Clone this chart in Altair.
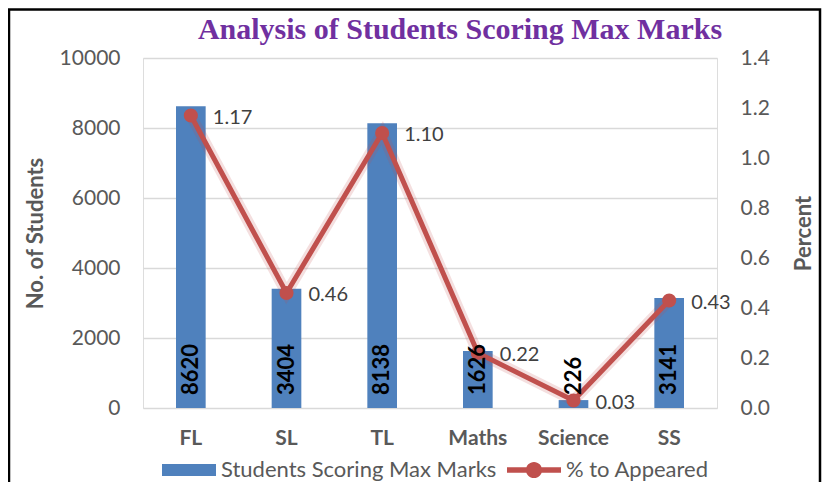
import altair as alt
import pandas as pd

categories = ["FL", "SL", "TL", "Maths", "Science", "SS"]
students = [8620, 3404, 8138, 1626, 226, 3141]
percent = [1.17, 0.46, 1.10, 0.22, 0.03, 0.43]
series = ["Students Scoring Max Marks", "% to Appeared"]

df = pd.DataFrame({"category": categories, "students": students, "percent": percent})
leg_df = pd.DataFrame({"series": series, "category": [categories[0]] * 2})
frame_df = pd.DataFrame({"k": [0]})

BLUE = "#4F81BD"
RED = "#C0504D"
GREY = "#595959"
FONT = "Lato"

x_enc = alt.X(
    "category:N",
    sort=categories,
    scale=alt.Scale(paddingInner=0.69, paddingOuter=0.345),
    axis=alt.Axis(
        title=None, labelAngle=0, labelFontWeight="bold", labelFontSize=21,
        labelColor=GREY, labelFont=FONT, domain=False, ticks=False, labelPadding=19,
    ),
)

y_left = alt.Y(
    "students:Q",
    scale=alt.Scale(domain=[0, 10000], nice=False),
    axis=alt.Axis(
        title="No. of Students", values=[0, 2000, 4000, 6000, 8000, 10000], format="d",
        grid=True, gridColor="#D9D9D9", gridWidth=1.5, domain=False, ticks=False,
        labelFontSize=21, labelColor=GREY, labelFont=FONT, labelPadding=23,
        titleFontSize=22, titleFontWeight="bold", titleColor=GREY, titleFont=FONT,
        titlePadding=12,
    ),
)

y_right = alt.Y(
    "percent:Q",
    scale=alt.Scale(domain=[0, 1.4], nice=False),
    axis=alt.Axis(
        title="Percent", orient="right", values=[0, 0.2, 0.4, 0.6, 0.8, 1.0, 1.2, 1.4],
        format=".1f", grid=False, domain=False, ticks=False,
        labelFontSize=21, labelColor=GREY, labelFont=FONT, labelPadding=23,
        titleFontSize=22, titleFontWeight="bold", titleColor=GREY, titleFont=FONT,
        titlePadding=46, titleAngle=270,
    ),
)

base = alt.Chart(df)

bars = base.mark_bar(color=BLUE).encode(x=x_enc, y=y_left)

rect_path = "M-1,-0.22H1V0.22H-1Z"
line_path = ("M-1,-0.1H1V0.1H-1Z M-0.3,0A0.3,0.3 0 1,1 0.3,0"
             "A0.3,0.3 0 1,1 -0.3,0Z")

legend_layer = alt.Chart(leg_df).mark_point(filled=True, opacity=0).encode(
    x=alt.X("category:N", sort=categories),
    y=alt.datum(0),
    color=alt.Color("series:N", sort=series,
                    scale=alt.Scale(domain=series, range=[BLUE, RED]),
                    legend=alt.Legend(title=None, orient="none", legendX=19, legendY=385,
                                      direction="horizontal", symbolSize=2916,
                                      symbolStrokeWidth=0, symbolOpacity=1,
                                      labelFontSize=22, labelColor=GREY, labelFont=FONT,
                                      labelLimit=500, labelOffset=5, columnPadding=10,
                                      padding=0)),
    shape=alt.Shape("series:N", sort=series,
                    scale=alt.Scale(domain=series, range=[rect_path, line_path]),
                    legend=None),
)

left = alt.layer(bars, legend_layer)

glow = base.mark_line(color=RED, strokeWidth=11, opacity=0.18).encode(x=x_enc, y=y_right)
line = base.mark_line(color=RED, strokeWidth=5).encode(x=x_enc, y=y_right)
pts = base.mark_circle(color=RED, size=200, opacity=1).encode(x=x_enc, y=y_right)
line_text = base.mark_text(
    align="left", baseline="middle", dx=22, dy=2, fontSize=20, color="#404040", font=FONT,
).encode(x=x_enc, y=y_right, text=alt.Text("percent:Q", format=".2f"))

right = alt.layer(glow, line, pts, line_text)

bar_text = base.mark_text(
    angle=270, align="left", baseline="middle", dx=13, fontSize=22,
    fontWeight="bold", color="black", font=FONT,
).encode(
    x=x_enc,
    y=alt.YDatum(0, scale=alt.Scale(domain=[0, 10000]), axis=None),
    text=alt.Text("students:Q", format="d"),
)

frame = alt.Chart(frame_df).mark_rect(filled=False, stroke="black", strokeWidth=2.5).encode(
    x=alt.value(-134), x2=alt.value(677), y=alt.value(-48.5), y2=alt.value(440),
)

chart = alt.layer(left, right, bar_text, frame).resolve_scale(y="independent").properties(
    width=574,
    height=350,
    padding={"left": 135, "top": 50, "right": 105, "bottom": 74},
    autosize=alt.AutoSizeParams(type="none"),
    title=alt.TitleParams(
        "Analysis of Students Scoring Max Marks", font="Liberation Serif",
        fontSize=30, fontWeight="bold", color="#7030A0", frame="group",
        anchor="middle", baseline="alphabetic", offset=-61, dx=30,
    ),
).configure_view(stroke=None).configure(background="white")

chart.save("out.html", embed_options={"renderer": "svg", "actions": False})
